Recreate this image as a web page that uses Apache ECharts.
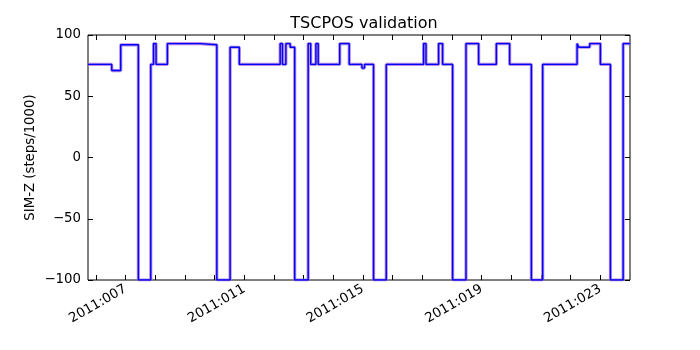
<!DOCTYPE html>
<html>
<head>
<meta charset="utf-8">
<script src="https://cdn.jsdelivr.net/npm/echarts@6/dist/echarts.min.js"></script>
<style>html,body{margin:0;padding:0;background:#fff}#c{width:700px;height:350px}</style>
</head>
<body>
<div id="c"></div>
<script>
// Day-of-year (2011) at which each SIM-Z level starts; value holds until the next time
var times = [5.735, 6.535, 6.838, 7.432, 7.850, 7.944, 8.029, 8.410, 9.513, 10.076,
  10.524, 10.835, 12.211, 12.288, 12.403, 12.548, 12.700, 13.155, 13.240, 13.415,
  13.492, 14.218, 14.538, 14.966, 15.054, 15.358, 15.786, 17.044, 17.125, 17.550,
  17.685, 18.022, 18.474, 18.899, 19.496, 19.944, 20.676, 21.057, 22.217, 22.271,
  22.642, 23.003, 23.341, 23.769, 24.0];
// SIM-Z (steps/1000), telemetry
var simzTlm = [76, 71, 92, -100, 76, 93, 76, 93, 92, -100,
  90, 76, 93, 76, 93, 90, -100, 93, 76, 93,
  76, 93, 76, 73, 76, -100, 76, 93, 76, 93,
  76, -100, 93, 76, 93, 76, -100, 76, 93, 90,
  93, 76, -100, 93, 93];
// SIM-Z (steps/1000), commanded / predicted
var simzCmd = [76, 71, 92, -100, 76, 93, 76, 93, 92, -100,
  90, 76, 93, 76, 93, 90, -100, 93, 76, 93,
  76, 93, 76, 73, 76, -100, 76, 93, 76, 93,
  76, -100, 93, 76, 93, 76, -100, 76, 93, 90,
  93, 76, -100, 93, 93];
var xMin = 5.735, xMax = 24.0;
var labelDays = [7, 11, 15, 19, 23];
var tickDays = [6, 7, 8, 9, 10, 11, 12, 13, 14, 15, 16, 17, 18, 19, 20, 21, 22, 23];

function pairs(t, v) { return t.map(function (x, i) { return [x, v[i]]; }); }
function dayLabel(d) { var s = String(Math.round(d)); while (s.length < 3) s = '0' + s; return '2011:' + s; }

var FONT = '"DejaVu Sans", sans-serif';
var chart = echarts.init(document.getElementById('c'), null, { renderer: 'canvas' });
chart.setOption({
  animation: false,
  backgroundColor: '#fff',
  title: {
    text: 'TSCPOS validation', left: 359, top: 11, textAlign: 'center',
    textStyle: { fontFamily: FONT, fontSize: 16, fontWeight: 'normal', color: '#000' }
  },
  grid: { left: 88, right: 70, top: 35, bottom: 70, show: true, borderColor: '#000', borderWidth: 1, backgroundColor: 'transparent' },
  xAxis: [{
    type: 'value', min: xMin, max: xMax, position: 'bottom',
    axisLine: { show: false, onZero: false }, splitLine: { show: false },
    axisTick: { show: true, inside: true, length: 5, customValues: tickDays, lineStyle: { color: '#000' } },
    axisLabel: { show: true, customValues: labelDays, rotate: 30, margin: 8, formatter: dayLabel,
      fontFamily: FONT, fontSize: 13.3, color: '#000' }
  }, {
    type: 'value', min: xMin, max: xMax, position: 'top',
    axisLine: { show: false, onZero: false }, splitLine: { show: false },
    axisTick: { show: true, inside: true, length: 5, customValues: tickDays, lineStyle: { color: '#000' } },
    axisLabel: { show: false }
  }],
  yAxis: [{
    type: 'value', min: -100, max: 100, interval: 50, position: 'left',
    name: 'SIM-Z (steps/1000)', nameLocation: 'middle', nameGap: 51, nameRotate: 90,
    nameMoveOverlap: false,
    nameTextStyle: { fontFamily: FONT, fontSize: 13.3, color: '#000' },
    axisLine: { show: false, onZero: false }, splitLine: { show: false },
    axisTick: { show: true, inside: true, length: 5, lineStyle: { color: '#000' } },
    axisLabel: { margin: 7, fontFamily: FONT, fontSize: 13.3, color: '#000',
      formatter: function (v) { return String(v).replace('-', '\u2212'); } }
  }, {
    type: 'value', min: -100, max: 100, interval: 50, position: 'right',
    axisLine: { show: false, onZero: false }, splitLine: { show: false },
    axisTick: { show: true, inside: true, length: 5, lineStyle: { color: '#000' } },
    axisLabel: { show: false }
  }],
  series: [{
    name: 'cmd', type: 'line', step: 'end', showSymbol: false, symbol: 'none',
    xAxisIndex: 0, yAxisIndex: 0, data: pairs(times, simzCmd),
    lineStyle: { color: '#a070d8', width: 3.2, opacity: 0.8 }, z: 2, silent: true
  }, {
    name: 'tlm', type: 'line', step: 'end', showSymbol: false, symbol: 'none',
    xAxisIndex: 0, yAxisIndex: 0, data: pairs(times, simzTlm),
    lineStyle: { color: '#0000ff', width: 1.4 }, z: 3, silent: true
  }]
});
</script>
</body>
</html>
